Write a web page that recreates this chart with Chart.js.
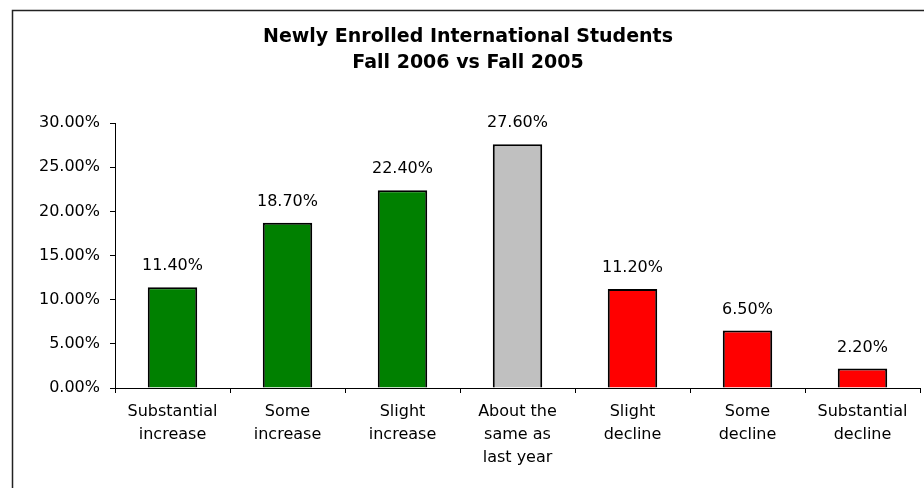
<!DOCTYPE html>
<html>
<head>
<meta charset="utf-8">
<script src="https://cdn.jsdelivr.net/npm/chart.js@4/dist/chart.umd.min.js"></script>
<style>
  html, body { margin: 0; padding: 0; background: #fff; }
  #wrap { width: 924px; height: 488px; }
</style>
</head>
<body>
<div id="wrap"><canvas id="chart" width="924" height="488"></canvas></div>
<script>
// chart data
var categories = [
  ['Substantial', 'increase'],
  ['Some', 'increase'],
  ['Slight', 'increase'],
  ['About the', 'same as', 'last year'],
  ['Slight', 'decline'],
  ['Some', 'decline'],
  ['Substantial', 'decline']
];
var percents = [11.4, 18.7, 22.4, 27.6, 11.2, 6.5, 2.2];
var barColors = ['#008000', '#008000', '#008000', '#C0C0C0', '#FF0000', '#FF0000', '#FF0000'];
var yTicks = [0, 5, 10, 15, 20, 25, 30];

var fontFamily = '"DejaVu Sans", Arial, sans-serif';

// value labels above each bar
var valueLabels = {
  id: 'valueLabels',
  afterDatasetsDraw: function(chart) {
    var ctx = chart.ctx;
    var meta = chart.getDatasetMeta(0);
    ctx.save();
    ctx.font = '16px ' + fontFamily;
    ctx.fillStyle = '#000';
    ctx.textAlign = 'center';
    ctx.textBaseline = 'middle';
    meta.data.forEach(function(bar, i) {
      ctx.fillText(percents[i].toFixed(2) + '%', bar.x, bar.y - 21);
    });
    ctx.restore();
  }
};

// outer frame of the chart
var frame = {
  id: 'frame',
  afterDraw: function(chart) {
    var ctx = chart.ctx;
    ctx.save();
    ctx.strokeStyle = '#222';
    ctx.lineWidth = 1.5;
    ctx.strokeRect(12.5, 10.5, 1000, 1000);
    ctx.restore();
  }
};

var ctx = document.getElementById('chart').getContext('2d');
new Chart(ctx, {
  type: 'bar',
  data: {
    labels: categories,
    datasets: [{
      data: percents,
      backgroundColor: barColors,
      borderColor: '#000',
      borderWidth: 2,
      barPercentage: 0.43,
      categoryPercentage: 1
    }]
  },
  options: {
    responsive: false,
    animation: false,
    layout: { padding: { left: 16, right: 4, top: 0, bottom: 0 } },
    plugins: {
      legend: { display: false },
      tooltip: { enabled: false },
      title: {
        display: true,
        text: ['Newly Enrolled International Students', 'Fall 2006 vs Fall 2005'],
        color: '#000',
        font: { family: fontFamily, size: 19, weight: 'bold', lineHeight: 1.37 },
        padding: { top: 24, bottom: 47 }
      }
    },
    scales: {
      x: {
        grid: { offset: true, drawOnChartArea: false, drawTicks: true, tickLength: 5, color: '#000' },
        border: { display: true, color: '#000', width: 1 },
        ticks: {
          color: '#000',
          maxRotation: 0,
          autoSkip: false,
          padding: 7,
          font: { family: fontFamily, size: 16, lineHeight: 1.44 }
        },
        afterFit: function(scale) { scale.height = 100; }
      },
      y: {
        min: 0,
        max: 30,
        afterBuildTicks: function(scale) {
          scale.ticks = yTicks.map(function(v) { return { value: v }; });
        },
        grid: { drawOnChartArea: false, drawTicks: true, tickLength: 5, color: '#000' },
        border: { display: true, color: '#000', width: 1 },
        ticks: {
          color: '#000',
          padding: 10,
          font: { family: fontFamily, size: 16 },
          callback: function(v) { return v.toFixed(2) + '%'; }
        },
        afterFit: function(scale) { scale.width = 99; }
      }
    }
  },
  plugins: [valueLabels, frame]
});
</script>
</body>
</html>
